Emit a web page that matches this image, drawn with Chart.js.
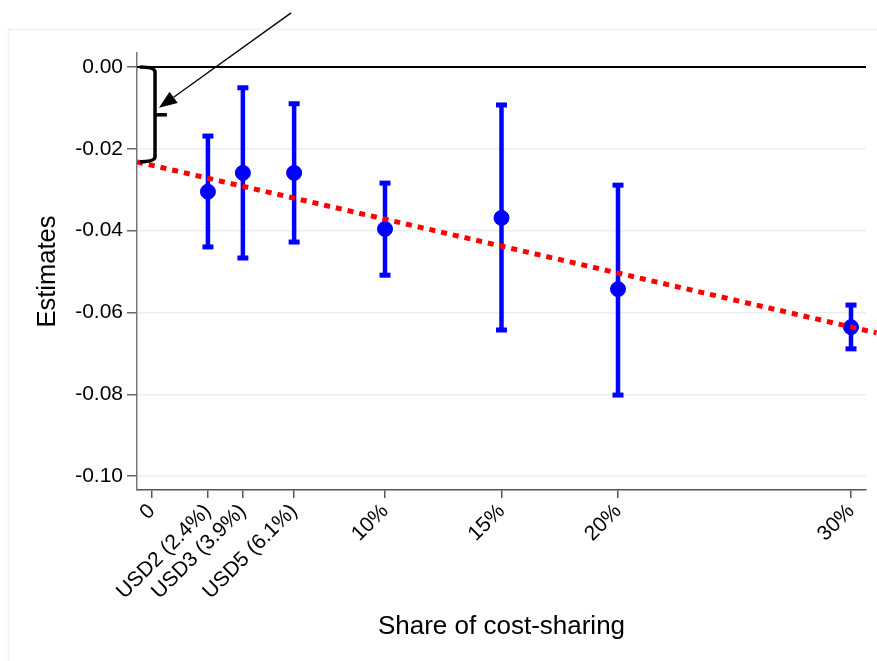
<!DOCTYPE html>
<html>
<head>
<meta charset="utf-8">
<script src="https://cdn.jsdelivr.net/npm/chart.js@4.4.1/dist/chart.umd.min.js"></script>
<style>
    html, body { margin: 0; padding: 0; background: #fff; }
    #wrap { width: 877px; height: 661px; }
</style>
</head>
<body>
<div id="wrap"><canvas id="myChart" width="877" height="661"></canvas></div>
<script>
// positions on the x axis (share, %) and their labels
const shares = [2.4, 3.9, 6.1, 10, 15, 20, 30];
const estimates = [-0.0305, -0.0259, -0.0259, -0.0396, -0.0369, -0.0543, -0.0636];
const ciLow = [-0.0440, -0.0467, -0.0428, -0.0509, -0.0643, -0.0802, -0.0689];
const ciHigh = [-0.0169, -0.0051, -0.0090, -0.0284, -0.0093, -0.0289, -0.0582];

const xTicks = [0, 2.4, 3.9, 6.1, 10, 15, 20, 30];
const xTickLabels = ['0', 'USD2 (2.4%)', 'USD3 (3.9%)', 'USD5 (6.1%)', '10%', '15%', '20%', '30%'];
const yTicks = [0, -0.02, -0.04, -0.06, -0.08, -0.10];
const yTickLabels = ['0.00', '-0.02', '-0.04', '-0.06', '-0.08', '-0.10'];

// red dotted fitted line, read at both ends
const fitX = [-0.64, 31.1];
const fitY = [-0.0232, -0.0650];

// bracket + arrow annotation (data units)
const bracket = { x0: -0.52, x1: 0.13, tip: 0.64, top: 0, mid: -0.0117, bottom: -0.0232 };
const arrow = { fromX: 5.97, fromY: 0.0132, toX: 0.30, toY: -0.0100 };

const fontFamily = 'Arial, "Liberation Sans", sans-serif';
const ctx = document.getElementById('myChart');

const decor = {
    id: 'decor',
    beforeDraw(chart) {
        const c = chart.ctx;
        c.save();
        c.fillStyle = '#fff';
        c.fillRect(0, 0, chart.width, chart.height);
        c.strokeStyle = '#eceff3';
        c.lineWidth = 1.5;
        c.strokeRect(8.5, 29.5, 1000, 1000);
        c.restore();
    },
    beforeDatasetsDraw(chart) {
        const c = chart.ctx;
        const x = chart.scales.x, y = chart.scales.y;
        const area = chart.chartArea;
        c.save();
        // zero line
        c.strokeStyle = '#000';
        c.lineWidth = 2;
        c.beginPath();
        c.moveTo(area.left, y.getPixelForValue(0));
        c.lineTo(area.right, y.getPixelForValue(0));
        c.stroke();
        // error bars
        c.strokeStyle = '#0000ff';
        c.fillStyle = '#0000ff';
        c.lineWidth = 4.5;
        shares.forEach((s, i) => {
            const px = x.getPixelForValue(s);
            const lo = y.getPixelForValue(ciLow[i]);
            const hi = y.getPixelForValue(ciHigh[i]);
            c.beginPath();
            c.moveTo(px, lo);
            c.lineTo(px, hi);
            c.stroke();
            c.fillRect(px - 5.5, hi - 2.5, 11, 5);
            c.fillRect(px - 5.5, lo - 2.5, 11, 5);
        });
        c.restore();
    },
    afterDraw(chart) {
        const c = chart.ctx;
        const x = chart.scales.x, y = chart.scales.y;
        c.save();
        // curly bracket
        const bx0 = x.getPixelForValue(bracket.x0);
        const bx1 = x.getPixelForValue(bracket.x1);
        const bt = x.getPixelForValue(bracket.tip);
        const yt = y.getPixelForValue(bracket.top);
        const ym = y.getPixelForValue(bracket.mid);
        const yb = y.getPixelForValue(bracket.bottom);
        c.strokeStyle = '#000';
        c.lineWidth = 3.5;
        c.lineJoin = 'round';
        c.beginPath();
        c.moveTo(bx0, yt);
        c.quadraticCurveTo(bx1, yt, bx1, yt + 5);
        c.lineTo(bx1, yb - 5);
        c.quadraticCurveTo(bx1, yb, bx0, yb);
        c.stroke();
        c.beginPath();
        c.moveTo(bx1, ym);
        c.lineTo(bt, ym);
        c.stroke();
        // arrow
        const ax0 = x.getPixelForValue(arrow.fromX), ay0 = y.getPixelForValue(arrow.fromY);
        const ax1 = x.getPixelForValue(arrow.toX), ay1 = y.getPixelForValue(arrow.toY);
        const ang = Math.atan2(ay1 - ay0, ax1 - ax0);
        const headLen = 18, headW = 7;
        const bxh = ax1 - headLen * Math.cos(ang), byh = ay1 - headLen * Math.sin(ang);
        c.lineWidth = 1.3;
        c.beginPath();
        c.moveTo(ax0, ay0);
        c.lineTo(bxh, byh);
        c.stroke();
        c.fillStyle = '#000';
        c.beginPath();
        c.moveTo(ax1, ay1);
        c.lineTo(bxh + headW * Math.sin(ang), byh - headW * Math.cos(ang));
        c.lineTo(bxh - headW * Math.sin(ang), byh + headW * Math.cos(ang));
        c.closePath();
        c.fill();
        c.restore();
    }
};

const myChart = new Chart(ctx, {
    type: 'scatter',
    data: {
        datasets: [{
            type: 'line',
            label: 'fit',
            data: fitX.map((v, i) => ({ x: v, y: fitY[i] })),
            borderColor: '#ff0000',
            borderWidth: 5,
            borderDash: [6, 6],
            borderCapStyle: 'butt',
            pointRadius: 0,
            fill: false,
            clip: { left: 0, top: 0, right: 12, bottom: 0 },
            order: 0
        }, {
            label: 'Estimates',
            data: shares.map((s, i) => ({ x: s, y: estimates[i] })),
            backgroundColor: '#0000ff',
            borderColor: '#0000ff',
            pointRadius: 7.5,
            order: 1
        }]
    },
    options: {
        responsive: false,
        animation: false,
        layout: { padding: { top: 53, right: 11, left: 0, bottom: 0 } },
        plugins: {
            legend: { display: false },
            tooltip: { enabled: false }
        },
        scales: {
            x: {
                type: 'linear',
                min: -0.644,
                max: 30.644,
                afterBuildTicks: (scale) => { scale.ticks = xTicks.map(v => ({ value: v })); },
                afterFit: (scale) => { scale.height = 171; },
                ticks: {
                    callback: (v, i) => xTickLabels[i],
                    minRotation: 45,
                    maxRotation: 45,
                    autoSkip: false,
                    padding: 1,
                    color: '#000',
                    font: { family: fontFamily, size: 21 }
                },
                grid: { drawOnChartArea: false, tickLength: 8, tickColor: '#555', lineWidth: 1.5 },
                border: { color: '#555', width: 1.5 },
                title: {
                    display: true,
                    text: 'Share of cost-sharing',
                    color: '#000',
                    font: { family: fontFamily, size: 26 },
                    padding: { top: 0, bottom: 19 }
                }
            },
            y: {
                min: -0.1034,
                max: 0.0034,
                afterBuildTicks: (scale) => { scale.ticks = yTicks.map(v => ({ value: v })); },
                afterFit: (scale) => { scale.width = 137; },
                ticks: {
                    callback: (v, i) => yTickLabels[i],
                    padding: 4,
                    color: '#000',
                    font: { family: fontFamily, size: 21 }
                },
                grid: { color: '#e9eef3', lineWidth: 1.5, tickLength: 10, tickColor: '#666' },
                border: { color: '#777', width: 1.5 },
                title: {
                    display: true,
                    text: 'Estimates',
                    color: '#000',
                    font: { family: fontFamily, size: 25.5 },
                    padding: { top: 33, bottom: 0 }
                }
            }
        }
    },
    plugins: [decor]
});
</script>
</body>
</html>
